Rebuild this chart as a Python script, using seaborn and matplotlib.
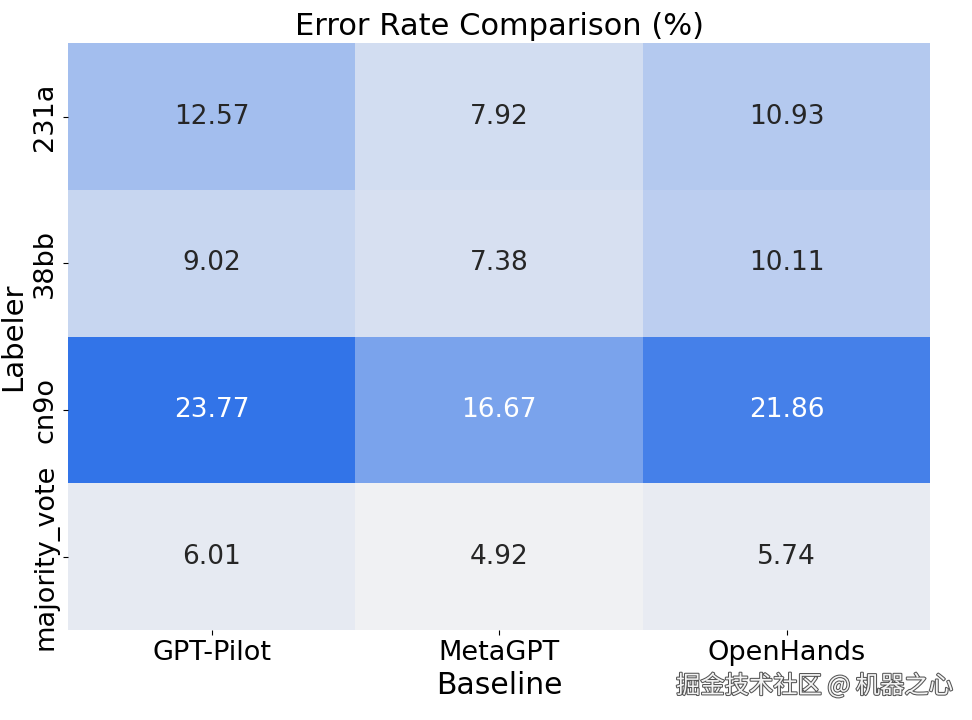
import numpy as np
import pandas as pd
import matplotlib
matplotlib.use("Agg")
import matplotlib.pyplot as plt
import matplotlib.patheffects as pe
import seaborn as sns

labelers = ["231a", "38bb", "cn9o", "majority_vote"]
baselines = ["GPT-Pilot", "MetaGPT", "OpenHands"]
error_rates = [
    [12.57, 7.92, 10.93],
    [9.02, 7.38, 10.11],
    [23.77, 16.67, 21.86],
    [6.01, 4.92, 5.74],
]

df = pd.DataFrame(error_rates, index=labelers, columns=baselines)

fig = plt.figure(figsize=(9.72, 7.2), dpi=100)
ax = fig.add_axes([0.07, 0.125, 0.887, 0.815])

cmap = sns.light_palette("#3274e8", as_cmap=True)
sns.heatmap(df, annot=True, fmt=".2f", cmap=cmap, cbar=False, ax=ax,
            annot_kws={"fontsize": 19})

ax.set_title("Error Rate Comparison (%)", fontsize=22)
ax.set_xlabel("Baseline", fontsize=21.5)
ax.set_ylabel("Labeler", fontsize=21)
ax.tick_params(axis="both", labelsize=19.5)
plt.setp(ax.get_yticklabels(), rotation=90, va="center")

# watermark
fig.text(0.98, 0.047, "掘金技术社区 @ 机器之心", ha="right", va="center",
         fontsize=17.5, color="#f4f4f4", family=["Noto Sans CJK SC", "DejaVu Sans"],
         path_effects=[pe.withStroke(linewidth=1.5, foreground="#555555")])

fig.savefig("out.png", dpi=100)
